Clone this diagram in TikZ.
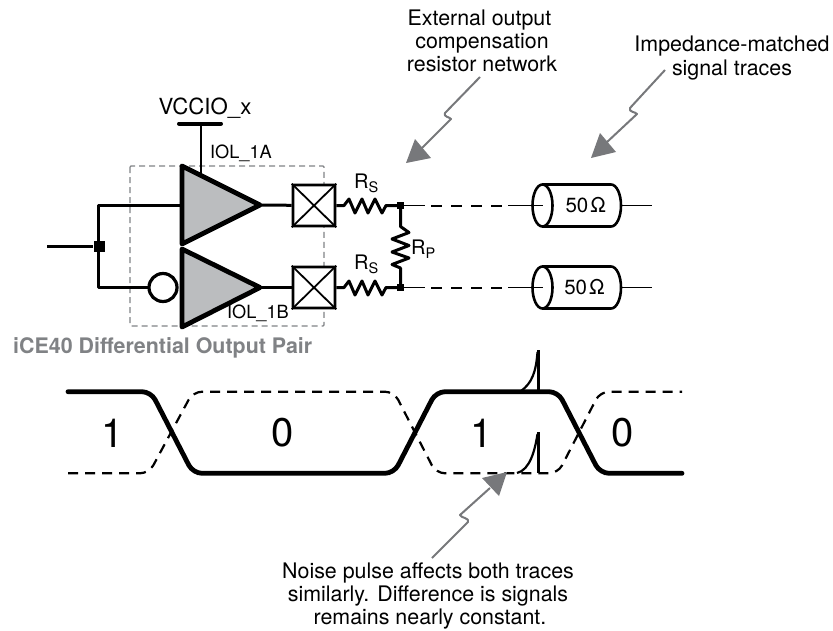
\documentclass[tikz,border=0pt]{standalone}
\usepackage{fontspec}
\setmainfont{TeX Gyre Heros}
\definecolor{trifill}{HTML}{BBBDBF}
\definecolor{callout}{HTML}{77787B}
\definecolor{captiongray}{HTML}{808285}
\definecolor{boxgray}{HTML}{808285}
\newcommand{\fs}[1]{\fontsize{#1}{#1}\selectfont}
\tikzset{
  wire/.style={line width=1.8pt,line join=round},
  medwire/.style={line width=3pt,line join=round},
  amp/.style={line width=4.8pt,line join=round,fill=trifill},
  pad/.style={draw,fill=white,line width=2.6pt,minimum width=42pt,minimum height=41pt,inner sep=0pt,rounded corners=1pt},
  dot/.style={fill=black,inner sep=0pt,minimum size=#1},
  bubble/.style={draw,fill=white,circle,line width=3.2pt,minimum size=28pt,inner sep=0pt},
  thick wave/.style={line width=4.8pt,rounded corners=9pt,line cap=round},
  dash wave/.style={line width=2.2pt,rounded corners=9pt,dash pattern=on 10pt off 7pt},
  calloutline/.style={draw=callout,line width=2pt,line join=round},
  callouthead/.style={fill=callout,draw=none},
  lbl/.style={inner sep=0pt,align=center},
  note/.style={lbl,font=\fontsize{21.4}{23.2}\selectfont},
  small/.style={lbl,font=\fs{18.2}},
  tline/.style={line width=2pt,dash pattern=on 10.5pt off 9.5pt},
  can/.style={line width=2.6pt,fill=white,line join=round},
}
\begin{document}
\begin{tikzpicture}[x=1pt,y=-1pt]
\useasboundingbox (0,0) rectangle (833,630);

% dashed box
\draw[boxgray,line width=1.3pt,dash pattern=on 6pt off 4pt,rounded corners=1pt] (130,166) rectangle (324,326);

% coordinates
\coordinate (in) at (47,246);
\coordinate (upperin) at (98.5,205);
\coordinate (lowerin) at (98.5,287.5);
\coordinate (ampAin) at (182,205);
\coordinate (ampAout) at (260,205);
\coordinate (ampBout) at (260,287.5);
\coordinate (vccbar) at (201,123.5);

% supply
\node[lbl,font=\fs{22.2}] (vcc) at (205,108) {VCCIO\_x};
\draw[line width=4pt,line cap=round] (179,123.5) -- (221,123.5);
\draw[wire] (vccbar) -- (201,173);

% inputs
\node[dot=11pt] (junction) at (99,246) {};
\draw[medwire] (in) -- (junction);
\draw[medwire] (ampAin) -- (upperin) -- (lowerin) -- (152,287.5);

% amplifiers
\draw[amp] (182,166) -- (260,205) -- (182,244) -- cycle;
\draw[amp] (182,249) -- (260,287.5) -- (182,327) -- cycle;
\node[bubble] (bub) at (163,287.5) {};

% pads
\node[pad] (padA) at (314,205.5) {};
\node[pad] (padB) at (314,287.5) {};
\draw[wire] (padA.north west) -- (padA.south east) (padA.north east) -- (padA.south west);
\draw[wire] (padB.north west) -- (padB.south east) (padB.north east) -- (padB.south west);
\draw[medwire] (ampAout) -- (padA);
\draw[medwire] (ampBout) -- (padB);

\node[small] (iola) at (241,153) {IOL\_1A};
\node[small] (iolb) at (258,313) {IOL\_1B};

% junction dots
\node[dot=7pt] (dotA) at (400.5,205.5) {};
\node[dot=7pt] (dotB) at (400.5,287.5) {};

% resistors
\draw[medwire] (padA.east) -- (344,205.5) -- (349,199) -- (355,213) -- (362,199) -- (368,213) -- (375,199) -- (382,213) -- (386,205.5) -- (dotA);
\draw[medwire] (padB.east) -- (344,287.5) -- (349,281) -- (355,295) -- (362,281) -- (368,295) -- (375,281) -- (382,295) -- (386,287.5) -- (dotB);
\draw[medwire] (dotA) -- (400.5,226.5) -- (409,232.5) -- (392,239) -- (409,245.5) -- (392,252) -- (409,258) -- (392,264.5) -- (400.5,268) -- (dotB);

\node[lbl,anchor=base west,font=\fs{20}] (rs1) at (354,188) {R\raisebox{-4pt}{\fs{14.5}S}};
\node[lbl,anchor=base west,font=\fs{20}] (rs2) at (354,269.5) {R\raisebox{-4pt}{\fs{14.5}S}};
\node[lbl,anchor=base west,font=\fs{20}] (rp) at (411,254) {R\raisebox{-4pt}{\fs{14.5}P}};

% transmission lines
\coordinate (c1) at (542.5,205.5);
\coordinate (c2) at (542.5,287.5);
\coordinate (o1) at (652,205.5);
\coordinate (o2) at (652,287.5);
\foreach \c/\o/\d in {c1/o1/dotA,c2/o2/dotB}{
  \draw[can] ([yshift=21pt]\c) -- ++(68.5,0) arc[start angle=90,end angle=-90,x radius=10pt,y radius=21pt]
     -- ++(-68.5,0) arc[start angle=-90,end angle=-270,x radius=10pt,y radius=21pt] -- cycle;
  \draw[can,fill=none] ([yshift=21pt]\c) arc[start angle=90,end angle=-90,x radius=10pt,y radius=21pt];
  \draw[wire] ([xshift=78.5pt]\c) -- (\o);
  \draw[wire] (\d) -- ([xshift=24pt]\d.center);
  \draw[tline] ([xshift=30.5pt]\d.center) -- ([xshift=103pt]\d.center);
  \draw[wire] ([xshift=107.5pt]\d.center) -- (\c);
}
\node[lbl,font=\fs{20.5}] (z1) at (585.7,205.5) {50\kern2ptΩ};
\node[lbl,font=\fs{20.5}] (z2) at (584.5,287) {50\kern2ptΩ};

% waveform
\draw[dash wave] (68,473.3) -- (149,473.3) -- (193,391.7) -- (394,391.7) -- (436,473.3) -- (558,473.3) -- (600,391.7) -- (682,391.7);
\draw[thick wave] (68,391.7) -- (151,391.7) -- (193,473.3) -- (394,473.3) -- (436,391.7) -- (558,391.7) -- (600,473.3) -- (682,473.3);
% noise spikes
\draw[medwire] (538,350) -- (538,392);
\draw[line width=2.2pt] (537.5,352) .. controls (536,372) and (532,383) .. (521,391);
\draw[medwire] (538,432) -- (538,473);
\draw[line width=2.2pt] (537.5,434) .. controls (535,450) and (530,470) .. (517,473);

\node[lbl,font=\fs{40}] (b1) at (113,433) {1};
\node[lbl,font=\fs{40}] (b2) at (283,433) {0};
\node[lbl,font=\fs{40}] (b3) at (482,433) {1};
\node[lbl,font=\fs{40}] (b4) at (623,433) {0};

% caption
\node[lbl,anchor=base west,text=captiongray,font=\fs{21.4}\bfseries] (cap) at (13,353) {iCE40 Differential Output Pair};

% notes
\node[note] (n1) at (482,41) {External output\hspace*{5pt}\\compensation\\resistor network};
\node[note] (n2) at (732,58) {Impedance-matched\\signal traces};
\node[note] (n3) at (428,596) {Noise pulse affects both traces\\similarly. Difference is signals\hspace*{6pt}\\\hspace*{4pt}remains nearly constant.};

% callouts
\coordinate (a1s) at (480,77);
\coordinate (a1t) at (406,163);
\draw[calloutline] (a1s) -- (445,113) .. controls (443,117) and (450,117) .. (451,119) -- (421,149);
\fill[callouthead] (415,139) -- (431,158) -- (a1t) -- cycle;
\coordinate (a2s) at (665,70);
\coordinate (a2t) at (591,158);
\draw[calloutline] (a2s) -- (630,108) .. controls (628,112) and (636,112) .. (637,114) -- (606,143);
\fill[callouthead] (600,133) -- (616,152) -- (a2t) -- cycle;
\coordinate (a3s) at (432,558);
\coordinate (a3t) at (507,472);
\draw[calloutline] (a3s) -- (468,522) .. controls (470,518) and (461,518) .. (460,515) -- (490,488);
\fill[callouthead] (482,478) -- (499,496) -- (a3t) -- cycle;
\end{tikzpicture}
\end{document}
